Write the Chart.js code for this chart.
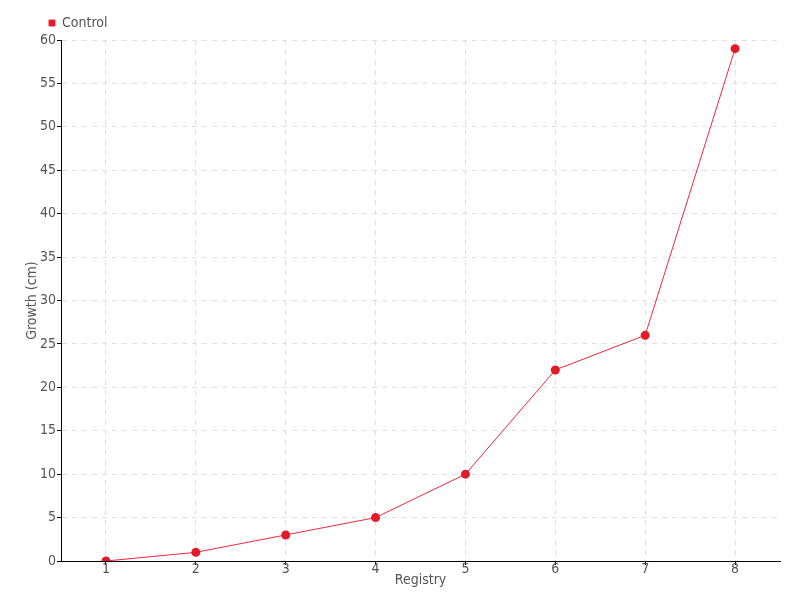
<!DOCTYPE html>
<html><head><meta charset="utf-8">
<script src="https://cdn.jsdelivr.net/npm/chart.js@4"></script>
<style>html,body{margin:0;padding:0;background:#fff}#wrap{width:800px;height:600px}</style>
</head><body><div id="wrap"><canvas id="c" width="800" height="600"></canvas></div>
<script>
const categories = ['1','2','3','4','5','6','7','8'];
const controlValues = [0, 1, 3, 5, 10, 22, 26, 59];
const seriesName = 'Control';
const xTitle = 'Registry';
const yTitle = 'Growth (cm)';

const FONT = '"DejaVu Sans Condensed", "Liberation Sans Narrow", sans-serif';
Chart.defaults.font.family = FONT;
Chart.defaults.color = '#555';

const legendShift = {
  id: 'legendShift',
  afterLayout(chart) {
    if (chart.legend) { chart.legend.left += 14; chart.legend.right += 14; }
  }
};

new Chart(document.getElementById('c'), {
  type: 'line',
  data: {
    labels: categories,
    datasets: [{
      label: seriesName,
      data: controlValues,
      borderColor: '#f0283c',
      backgroundColor: '#e31a2a',
      borderWidth: 1,
      pointRadius: 4.5,
      pointHoverRadius: 4.5,
      pointBackgroundColor: '#e31a2a',
      pointBorderColor: '#e31a2a',
      pointBorderWidth: 0,
      tension: 0
    }]
  },
  plugins: [legendShift],
  options: {
    responsive: false,
    animation: false,
    layout: { padding: { left: 25, right: 20, top: 6, bottom: 13 } },
    plugins: {
      legend: {
        align: 'start',
        labels: {
          boxWidth: 6, boxHeight: 6, padding: 10,
          font: { size: 14 }, color: '#555'
        }
      },
      tooltip: { enabled: false }
    },
    scales: {
      x: {
        offset: true,
        grid: { offset: false, color: '#e0e0e0', tickColor: '#000', tickLength: 4, drawOnChartArea: true },
        border: { display: true, color: '#000', dash: [5, 5] },
        ticks: { font: { size: 14, lineHeight: 1 }, color: '#555', padding: -3 },
        title: { display: true, text: xTitle, font: { size: 14, lineHeight: 1 }, color: '#555', padding: 0 }
      },
      y: {
        min: 0, max: 60,
        ticks: { stepSize: 5, font: { size: 14 }, color: '#555', padding: 1 },
        grid: { color: '#e0e0e0', tickColor: '#000', tickLength: 4 },
        border: { display: true, color: '#000', dash: [5, 5] },
        title: { display: true, text: yTitle, font: { size: 14, lineHeight: 1 }, color: '#555', padding: 0 }
      }
    }
  }
});
</script></body></html>
